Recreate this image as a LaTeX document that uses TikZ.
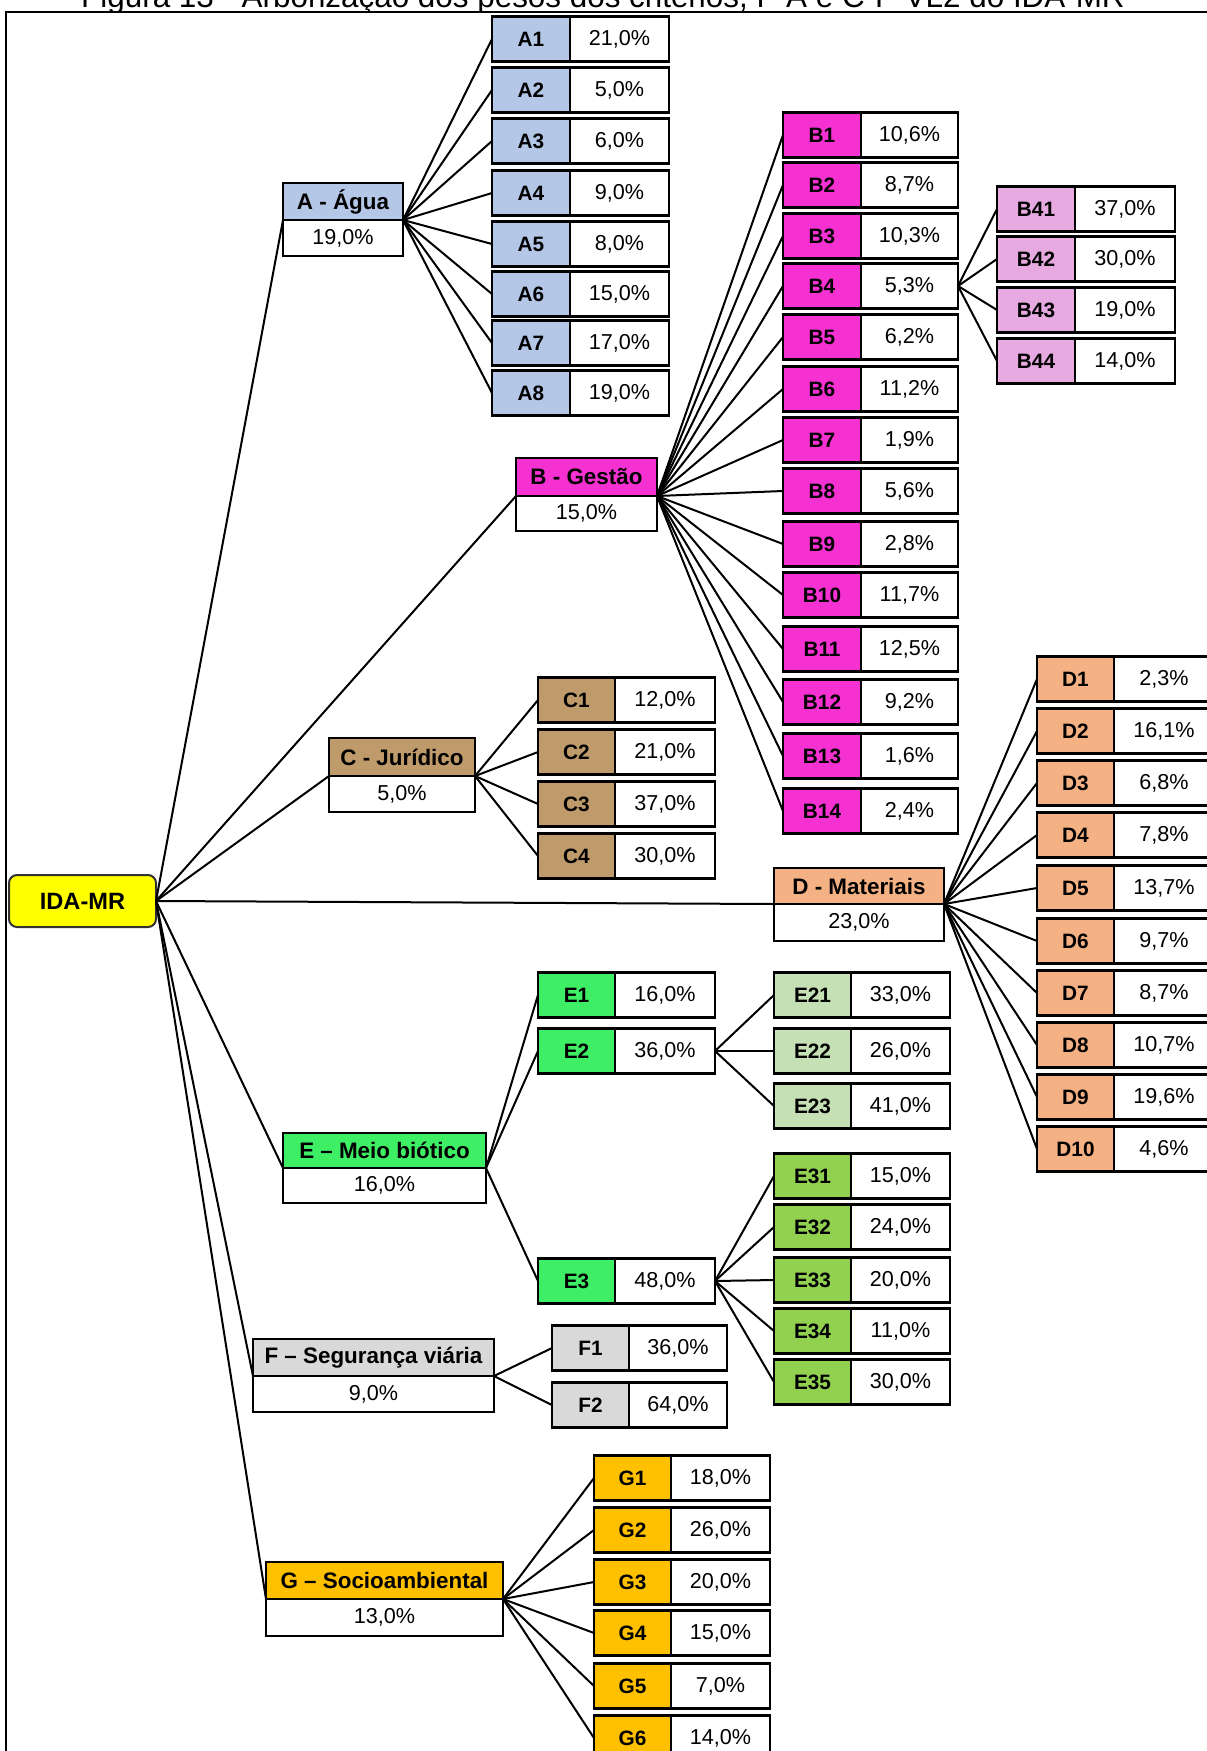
\documentclass[tikz,border=0pt]{standalone}
\usepackage{fontspec}
\setmainfont{Liberation Sans}
\definecolor{cA}{HTML}{B4C7E7}
\definecolor{cB}{HTML}{F531D2}
\definecolor{cBB}{HTML}{E6A9E0}
\definecolor{cC}{HTML}{BF9A6A}
\definecolor{cD}{HTML}{F4B183}
\definecolor{cE}{HTML}{3EEF66}
\definecolor{cEE}{HTML}{C5E0B4}
\definecolor{cEF}{HTML}{92D050}
\definecolor{cF}{HTML}{D9D9D9}
\definecolor{cG}{HTML}{FFC000}
\definecolor{cRoot}{HTML}{FFFF00}
\tikzset{
  cell/.style={draw=black, line width=1.1pt, outer sep=0pt, inner sep=0pt, minimum height=22.5pt},
  lbl/.style={cell, font=\fontsize{10.4}{11}\selectfont\bfseries},
  val/.style={cell, fill=white, font=\fontsize{10.8}{12}\selectfont},
  head/.style={draw=black, line width=1.1pt, outer sep=0pt, inner sep=0pt, font=\fontsize{11.2}{13}\selectfont\bfseries},
  pval/.style={draw=black, line width=1.1pt, outer sep=0pt, inner sep=0pt, fill=white, font=\fontsize{10.8}{12}\selectfont},
  link/.style={draw=black, line width=1pt},
  rootbox/.style={draw=black!80, line width=1pt, rounded corners=4pt, fill=cRoot, outer sep=0pt,
    font=\fontsize{11.8}{13}\selectfont\bfseries, minimum width=73.5pt, minimum height=26pt}
}
% leaf: name, left x, label width, value width, centre y, fill, label, value
\newcommand{\leaf}[8]{%
  \node[lbl, fill=#6, minimum width=#3*0.5pt, anchor=west] (#1) at (#2,#5) {#7};
  \node[val, minimum width=#4*0.5pt, anchor=west] (#1v) at (#1.east) {#8};
}
% criterion: name, left x, width, top y, header height, value height, fill, header, value
\newcommand{\crit}[9]{%
  \node[head, fill=#7, minimum width=#3*0.5pt, minimum height=#5*0.5pt, anchor=north west] (#1) at (#2,#4) {#8};
  \node[pval, minimum width=#3*0.5pt, minimum height=#6*0.5pt, anchor=north west] (#1v) at (#1.south west) {#9};
}
\begin{document}
\begin{tikzpicture}[x=0.5pt, y=-0.5pt]
\useasboundingbox (0,0) rectangle (1206,1751);
\fill[white] (0,0) rectangle (1206,1751);

% caption line, cut by the top of the page
\begin{scope}
  \clip (0,0) rectangle (1206,11);
  \node[anchor=base, inner sep=0pt, font=\fontsize{15.7}{18}\selectfont] (caption) at (603,7)
    {Figura 13 - Arborização dos pesos dos critérios, F-A e C-F-VL2 do IDA-MR};
\end{scope}

% frame
\draw[line width=1.3pt] (6,1760) -- (6,12) -- (1215,12);

% root
\node[rootbox] (IDA) at (82.5,901) {IDA-MR};

% criteria
\crit{A}{283}{120}{183}{37}{36}{cA}{A - Água}{19,0\%}
\crit{B}{516}{141}{458}{38}{35}{cB}{B - Gestão}{15,0\%}
\crit{C}{329}{146}{738}{38}{36}{cC}{C - Jurídico}{5,0\%}
\crit{D}{774}{170}{868}{36}{37}{cD}{D - Materiais}{23,0\%}
\crit{E}{283}{203}{1133}{35}{35}{cE}{E – Meio biótico}{16,0\%}
\crit{F}{253}{241}{1339}{37}{36}{cF}{F – Segurança viária}{9,0\%}
\crit{G}{266}{237}{1562}{37}{37}{cG}{G – Socioambiental}{13,0\%}

% A
\leaf{A1}{492}{78}{99}{39}{cA}{A1}{21,0\%}
\leaf{A2}{492}{78}{99}{90}{cA}{A2}{5,0\%}
\leaf{A3}{492}{78}{99}{141}{cA}{A3}{6,0\%}
\leaf{A4}{492}{78}{99}{193}{cA}{A4}{9,0\%}
\leaf{A5}{492}{78}{99}{244}{cA}{A5}{8,0\%}
\leaf{A6}{492}{78}{99}{294}{cA}{A6}{15,0\%}
\leaf{A7}{492}{78}{99}{343}{cA}{A7}{17,0\%}
\leaf{A8}{492}{78}{99}{393}{cA}{A8}{19,0\%}

% B
\leaf{B1}{783}{78}{97}{135}{cB}{B1}{10,6\%}
\leaf{B2}{783}{78}{97}{185}{cB}{B2}{8,7\%}
\leaf{B3}{783}{78}{97}{236}{cB}{B3}{10,3\%}
\leaf{B4}{783}{78}{97}{286}{cB}{B4}{5,3\%}
\leaf{B5}{783}{78}{97}{337}{cB}{B5}{6,2\%}
\leaf{B6}{783}{78}{97}{389}{cB}{B6}{11,2\%}
\leaf{B7}{783}{78}{97}{440}{cB}{B7}{1,9\%}
\leaf{B8}{783}{78}{97}{491}{cB}{B8}{5,6\%}
\leaf{B9}{783}{78}{97}{544}{cB}{B9}{2,8\%}
\leaf{B10}{783}{78}{97}{595}{cB}{B10}{11,7\%}
\leaf{B11}{783}{78}{97}{649}{cB}{B11}{12,5\%}
\leaf{B12}{783}{78}{97}{702}{cB}{B12}{9,2\%}
\leaf{B13}{783}{78}{97}{756}{cB}{B13}{1,6\%}
\leaf{B14}{783}{78}{97}{811}{cB}{B14}{2,4\%}

\leaf{B41}{997}{78}{100}{209}{cBB}{B41}{37,0\%}
\leaf{B42}{997}{78}{100}{259}{cBB}{B42}{30,0\%}
\leaf{B43}{997}{78}{100}{310}{cBB}{B43}{19,0\%}
\leaf{B44}{997}{78}{100}{361}{cBB}{B44}{14,0\%}

% C
\leaf{C1}{538}{77}{100}{700}{cC}{C1}{12,0\%}
\leaf{C2}{538}{77}{100}{752}{cC}{C2}{21,0\%}
\leaf{C3}{538}{77}{100}{804}{cC}{C3}{37,0\%}
\leaf{C4}{538}{77}{100}{856}{cC}{C4}{30,0\%}

% D
\leaf{D1}{1037}{77}{100}{679}{cD}{D1}{2,3\%}
\leaf{D2}{1037}{77}{100}{731}{cD}{D2}{16,1\%}
\leaf{D3}{1037}{77}{100}{783}{cD}{D3}{6,8\%}
\leaf{D4}{1037}{77}{100}{835}{cD}{D4}{7,8\%}
\leaf{D5}{1037}{77}{100}{888}{cD}{D5}{13,7\%}
\leaf{D6}{1037}{77}{100}{941}{cD}{D6}{9,7\%}
\leaf{D7}{1037}{77}{100}{993}{cD}{D7}{8,7\%}
\leaf{D8}{1037}{77}{100}{1045}{cD}{D8}{10,7\%}
\leaf{D9}{1037}{77}{100}{1097}{cD}{D9}{19,6\%}
\leaf{D10}{1037}{77}{100}{1149}{cD}{D10}{4,6\%}

% E
\leaf{E1}{538}{77}{100}{995}{cE}{E1}{16,0\%}
\leaf{E2}{538}{77}{100}{1051}{cE}{E2}{36,0\%}
\leaf{E3}{538}{77}{100}{1281}{cE}{E3}{48,0\%}

\leaf{E21}{774}{77}{99}{995}{cEE}{E21}{33,0\%}
\leaf{E22}{774}{77}{99}{1051}{cEE}{E22}{26,0\%}
\leaf{E23}{774}{77}{99}{1106}{cEE}{E23}{41,0\%}

\leaf{E31}{774}{77}{99}{1176}{cEF}{E31}{15,0\%}
\leaf{E32}{774}{77}{99}{1227}{cEF}{E32}{24,0\%}
\leaf{E33}{774}{77}{99}{1280}{cEF}{E33}{20,0\%}
\leaf{E34}{774}{77}{99}{1331}{cEF}{E34}{11,0\%}
\leaf{E35}{774}{77}{99}{1382}{cEF}{E35}{30,0\%}

% F
\leaf{F1}{552}{77}{98}{1348}{cF}{F1}{36,0\%}
\leaf{F2}{552}{77}{98}{1405}{cF}{F2}{64,0\%}

% G
\leaf{G1}{594}{77}{99}{1478}{cG}{G1}{18,0\%}
\leaf{G2}{594}{77}{99}{1530}{cG}{G2}{26,0\%}
\leaf{G3}{594}{77}{99}{1582}{cG}{G3}{20,0\%}
\leaf{G4}{594}{77}{99}{1633}{cG}{G4}{15,0\%}
\leaf{G5}{594}{77}{99}{1686}{cG}{G5}{7,0\%}
\leaf{G6}{594}{77}{99}{1738}{cG}{G6}{14,0\%}

% connectors
\foreach \c in {A,B,C,D,E,F,G}
  \draw[link] (IDA.east) -- (\c.south west);
\foreach \i in {1,...,8}
  \draw[link] (A.south east) -- (A\i.west);
\foreach \i in {1,...,14}
  \draw[link] (B.south east) -- (B\i.west);
\foreach \i in {1,...,4}
  \draw[link] (B4v.east) -- (B4\i.west);
\foreach \i in {1,...,4}
  \draw[link] (C.south east) -- (C\i.west);
\foreach \i in {1,...,10}
  \draw[link] (D.south east) -- (D\i.west);
\foreach \i in {1,...,3}
  \draw[link] (E.south east) -- (E\i.west);
\foreach \i in {1,...,3}
  \draw[link] (E2v.east) -- (E2\i.west);
\foreach \i in {1,...,5}
  \draw[link] (E3v.east) -- (E3\i.west);
\foreach \i in {1,2}
  \draw[link] (F.south east) -- (F\i.west);
\foreach \i in {1,...,6}
  \draw[link] (G.south east) -- (G\i.west);
\end{tikzpicture}
\end{document}
